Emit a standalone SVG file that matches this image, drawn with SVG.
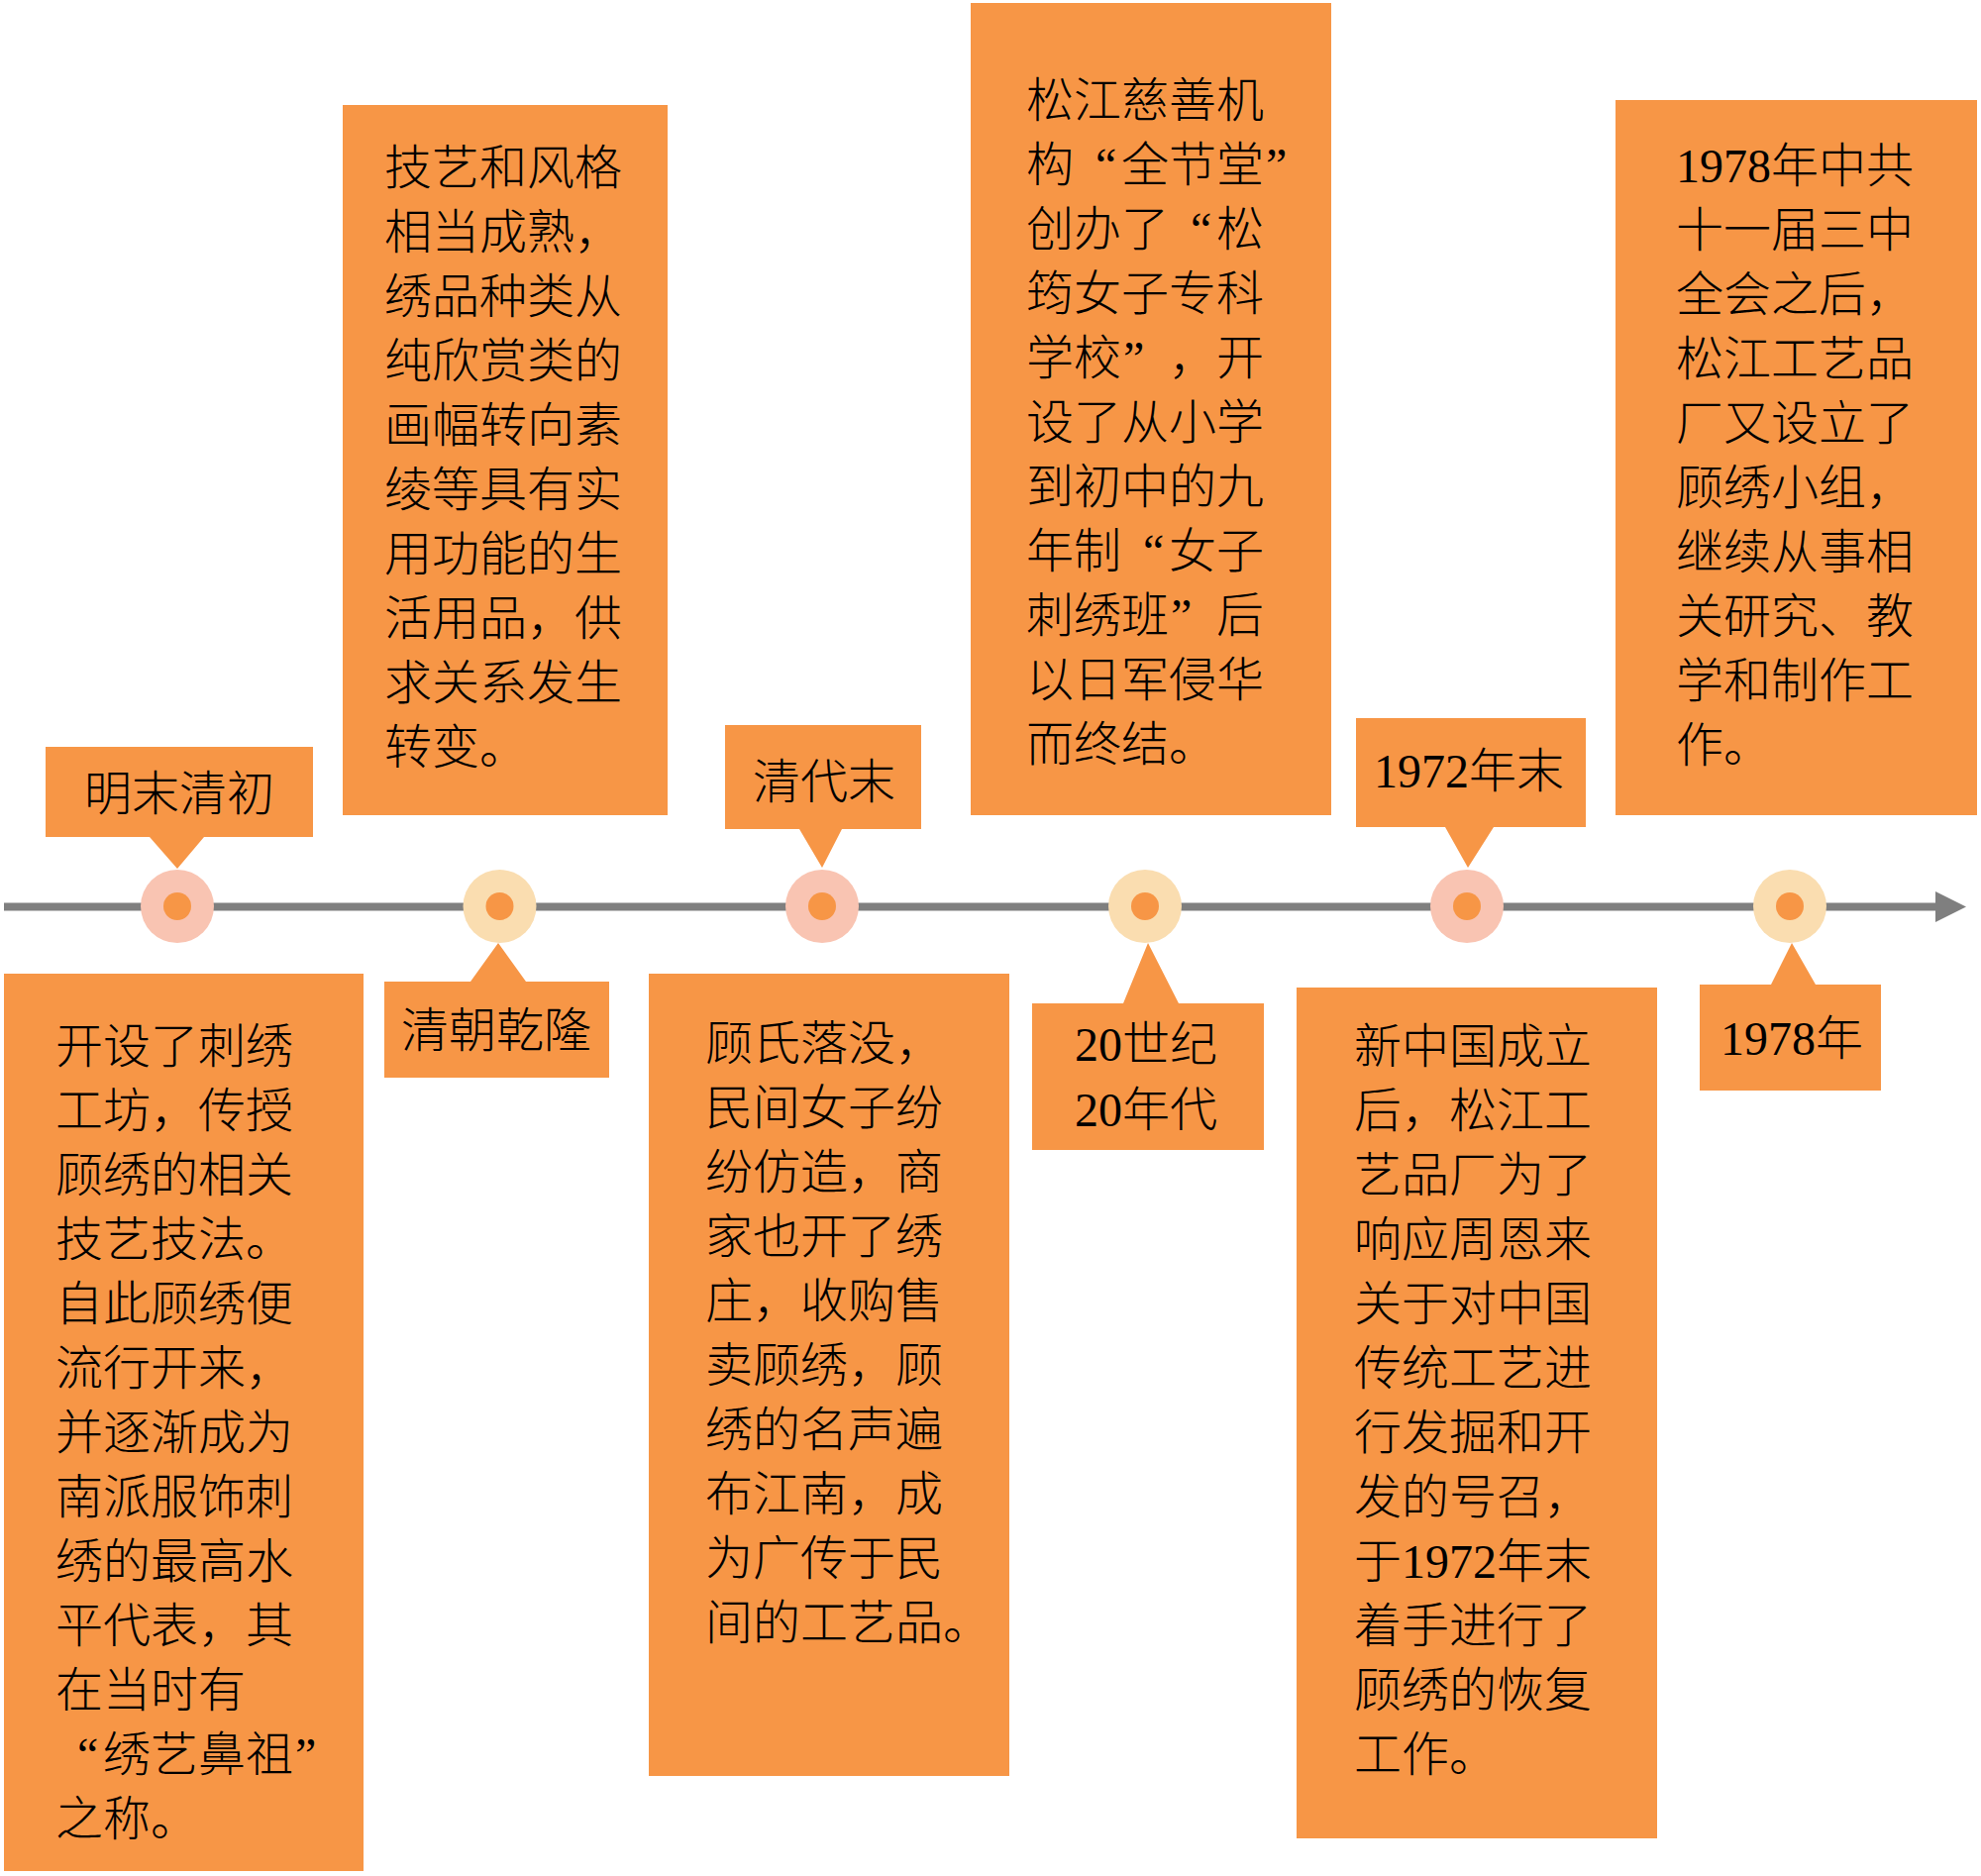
<svg xmlns="http://www.w3.org/2000/svg" width="2000" height="1894" viewBox="0 0 2000 1894">
<style>
.box{fill:#F79646}
.t{font-family:'Liberation Serif','Noto Sans CJK SC',serif;font-size:48px;font-weight:300;fill:#000}
.c{text-anchor:middle}
.axis{stroke:#7F7F7F;stroke-width:8;fill:none}
.ring-a{fill:#F9C4B2}
.ring-b{fill:#FADDB0}
.dot{fill:#F79646}
</style>
<defs>
<marker id="arrow" markerUnits="userSpaceOnUse" viewBox="0 0 31 31" markerWidth="31" markerHeight="31" refX="0" refY="15.5" orient="auto"><path d="M0,0 L31,15.5 L0,31 Z" fill="#7F7F7F"/></marker>
</defs>
<rect width="2000" height="1894" fill="#fff"/>
<g id="connectors">
<line class="axis" x1="4" y1="915.5" x2="1954" y2="915.5" marker-end="url(#arrow)"/>
</g>
<g id="points">
<g id="point-1"><circle class="ring-a" cx="179" cy="915" r="37"/><circle class="dot" cx="179" cy="915" r="14"/></g>
<g id="point-2"><circle class="ring-b" cx="504.5" cy="915" r="37"/><circle class="dot" cx="504.5" cy="915" r="14"/></g>
<g id="point-3"><circle class="ring-a" cx="830" cy="915" r="37"/><circle class="dot" cx="830" cy="915" r="14"/></g>
<g id="point-4"><circle class="ring-b" cx="1156" cy="915" r="37"/><circle class="dot" cx="1156" cy="915" r="14"/></g>
<g id="point-5"><circle class="ring-a" cx="1481" cy="915" r="37"/><circle class="dot" cx="1481" cy="915" r="14"/></g>
<g id="point-6"><circle class="ring-b" cx="1807" cy="915" r="37"/><circle class="dot" cx="1807" cy="915" r="14"/></g>
</g>
<g id="label-1">
<path class="box" d="M46 754 H316 V845 H206 L179 877 L151 845 H46 Z"/>
<text class="t c" x="181" y="818">明末清初</text>
</g>
<g id="label-2">
<path class="box" d="M388 991 H475 L503 952 L531 991 H615 V1088 H388 Z"/>
<text class="t c" x="501" y="1057">清朝乾隆</text>
</g>
<g id="label-3">
<path class="box" d="M732 732 H930 V837 H850 L830 876 L807 837 H732 Z"/>
<text class="t c" x="832" y="806">清代末</text>
</g>
<g id="label-4">
<path class="box" d="M1042 1013 H1134 L1159 952 L1190 1013 H1276 V1161 H1042 Z"/>
<text class="t c" x="1157" y="1071">20世纪</text>
<text class="t c" x="1157" y="1137">20年代</text>
</g>
<g id="label-5">
<path class="box" d="M1369 725 H1601 V835 H1508 L1482 876 L1459 835 H1369 Z"/>
<text class="t c" x="1483" y="795">1972年末</text>
</g>
<g id="label-6">
<path class="box" d="M1716 994 H1788 L1809 952 L1833 994 H1899 V1101 H1716 Z"/>
<text class="t c" x="1809" y="1065">1978年</text>
</g>
<g id="desc-1">
<rect class="box" x="4" y="983" width="363" height="906"/>
<text class="t">
<tspan x="56" y="1073">开设了刺绣</tspan>
<tspan x="56" y="1138">工坊，传授</tspan>
<tspan x="56" y="1203">顾绣的相关</tspan>
<tspan x="56" y="1268">技艺技法。</tspan>
<tspan x="56" y="1333">自此顾绣便</tspan>
<tspan x="56" y="1398">流行开来，</tspan>
<tspan x="56" y="1463">并逐渐成为</tspan>
<tspan x="56" y="1528">南派服饰刺</tspan>
<tspan x="56" y="1593">绣的最高水</tspan>
<tspan x="56" y="1658">平代表，其</tspan>
<tspan x="56" y="1723">在当时有</tspan>
<tspan x="78 104 152 200 248 298" y="1788">“绣艺鼻祖”</tspan>
<tspan x="56" y="1853">之称。</tspan>
</text>
</g>
<g id="desc-2">
<rect class="box" x="346" y="106" width="328" height="717"/>
<text class="t">
<tspan x="388" y="186">技艺和风格</tspan>
<tspan x="388" y="251">相当成熟，</tspan>
<tspan x="388" y="316">绣品种类从</tspan>
<tspan x="388" y="381">纯欣赏类的</tspan>
<tspan x="388" y="446">画幅转向素</tspan>
<tspan x="388" y="511">绫等具有实</tspan>
<tspan x="388" y="576">用功能的生</tspan>
<tspan x="388" y="641">活用品，供</tspan>
<tspan x="388" y="706">求关系发生</tspan>
<tspan x="388" y="771">转变。</tspan>
</text>
</g>
<g id="desc-3">
<rect class="box" x="655" y="983" width="364" height="810"/>
<text class="t">
<tspan x="712" y="1070">顾氏落没，</tspan>
<tspan x="712" y="1135">民间女子纷</tspan>
<tspan x="712" y="1200">纷仿造，商</tspan>
<tspan x="712" y="1265">家也开了绣</tspan>
<tspan x="712" y="1330">庄，收购售</tspan>
<tspan x="712" y="1395">卖顾绣，顾</tspan>
<tspan x="712" y="1460">绣的名声遍</tspan>
<tspan x="712" y="1525">布江南，成</tspan>
<tspan x="712" y="1590">为广传于民</tspan>
<tspan x="712" y="1655">间的工艺品。</tspan>
</text>
</g>
<g id="desc-4">
<rect class="box" x="980" y="3" width="364" height="820"/>
<text class="t">
<tspan x="1036" y="118">松江慈善机</tspan>
<tspan x="1036 1106 1132 1180 1228 1278" y="183">构“全节堂”</tspan>
<tspan x="1036 1084 1132 1202 1228" y="248">创办了“松</tspan>
<tspan x="1036" y="313">筠女子专科</tspan>
<tspan x="1036 1084 1134 1180 1228" y="378">学校”，开</tspan>
<tspan x="1036" y="443">设了从小学</tspan>
<tspan x="1036" y="508">到初中的九</tspan>
<tspan x="1036 1084 1154 1180 1228" y="573">年制“女子</tspan>
<tspan x="1036 1084 1132 1182 1228" y="638">刺绣班”后</tspan>
<tspan x="1036" y="703">以日军侵华</tspan>
<tspan x="1036" y="768">而终结。</tspan>
</text>
</g>
<g id="desc-5">
<rect class="box" x="1309" y="997" width="364" height="859"/>
<text class="t">
<tspan x="1367" y="1073">新中国成立</tspan>
<tspan x="1367" y="1138">后，松江工</tspan>
<tspan x="1367" y="1203">艺品厂为了</tspan>
<tspan x="1367" y="1268">响应周恩来</tspan>
<tspan x="1367" y="1333">关于对中国</tspan>
<tspan x="1367" y="1398">传统工艺进</tspan>
<tspan x="1367" y="1463">行发掘和开</tspan>
<tspan x="1367" y="1528">发的号召，</tspan>
<tspan x="1367" y="1593">于1972年末</tspan>
<tspan x="1367" y="1658">着手进行了</tspan>
<tspan x="1367" y="1723">顾绣的恢复</tspan>
<tspan x="1367" y="1788">工作。</tspan>
</text>
</g>
<g id="desc-6">
<rect class="box" x="1631" y="101" width="365" height="722"/>
<text class="t">
<tspan x="1692" y="184">1978年中共</tspan>
<tspan x="1692" y="249">十一届三中</tspan>
<tspan x="1692" y="314">全会之后，</tspan>
<tspan x="1692" y="379">松江工艺品</tspan>
<tspan x="1692" y="444">厂又设立了</tspan>
<tspan x="1692" y="509">顾绣小组，</tspan>
<tspan x="1692" y="574">继续从事相</tspan>
<tspan x="1692" y="639">关研究、教</tspan>
<tspan x="1692" y="704">学和制作工</tspan>
<tspan x="1692" y="769">作。</tspan>
</text>
</g>
</svg>
